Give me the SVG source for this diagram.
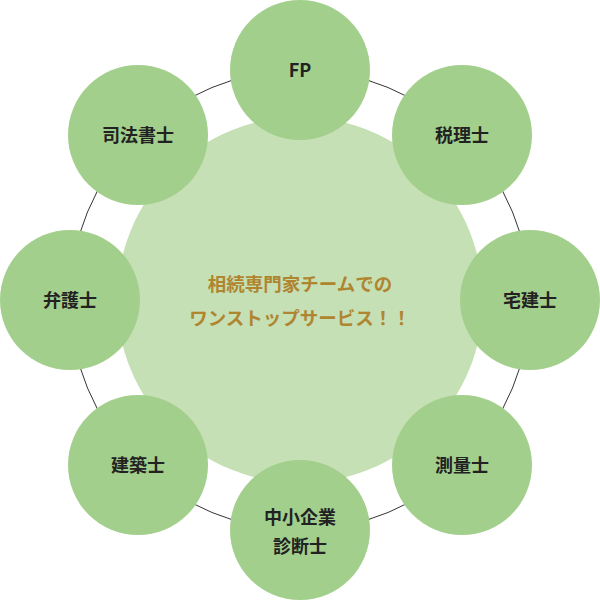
<svg xmlns="http://www.w3.org/2000/svg" width="600" height="600" viewBox="0 0 600 600">
<style>
.n{fill:#a3cf8c}
.t{font-family:"Noto Sans CJK JP","Noto Sans",sans-serif;font-weight:bold;font-size:18px;fill:#222;text-anchor:middle}
.c{font-family:"Noto Sans CJK JP",sans-serif;font-weight:bold;font-size:18.5px;fill:#b08530;text-anchor:middle}
</style>
<rect width="600" height="600" fill="#fff"/>
<g id="connectors"><circle cx="300" cy="300" r="230" fill="none" stroke="#333" stroke-width="1"/></g>
<g id="center"><circle cx="300" cy="300" r="183" fill="#c5e0b4"/>
<text class="c" x="300" y="291">相続専門家チームでの</text>
<text class="c" x="300" y="325">ワンストップサービス！！</text></g>
<g id="fp"><circle class="n" cx="300" cy="70" r="70"/><text class="t" x="300" y="77">FP</text></g>
<g id="zeirishi"><circle class="n" cx="462" cy="135" r="70"/><text class="t" x="462" y="142">税理士</text></g>
<g id="takken"><circle class="n" cx="530" cy="300" r="70"/><text class="t" x="530" y="307">宅建士</text></g>
<g id="sokuryo"><circle class="n" cx="462" cy="465" r="70"/><text class="t" x="462" y="472">測量士</text></g>
<g id="chusho"><circle class="n" cx="300" cy="530" r="70"/><text class="t" x="300" y="524">中小企業</text><text class="t" x="300" y="553">診断士</text></g>
<g id="kenchiku"><circle class="n" cx="138" cy="465" r="70"/><text class="t" x="138" y="472">建築士</text></g>
<g id="bengoshi"><circle class="n" cx="70" cy="300" r="70"/><text class="t" x="70" y="307">弁護士</text></g>
<g id="shihou"><circle class="n" cx="138" cy="135" r="70"/><text class="t" x="138" y="142">司法書士</text></g>
</svg>
